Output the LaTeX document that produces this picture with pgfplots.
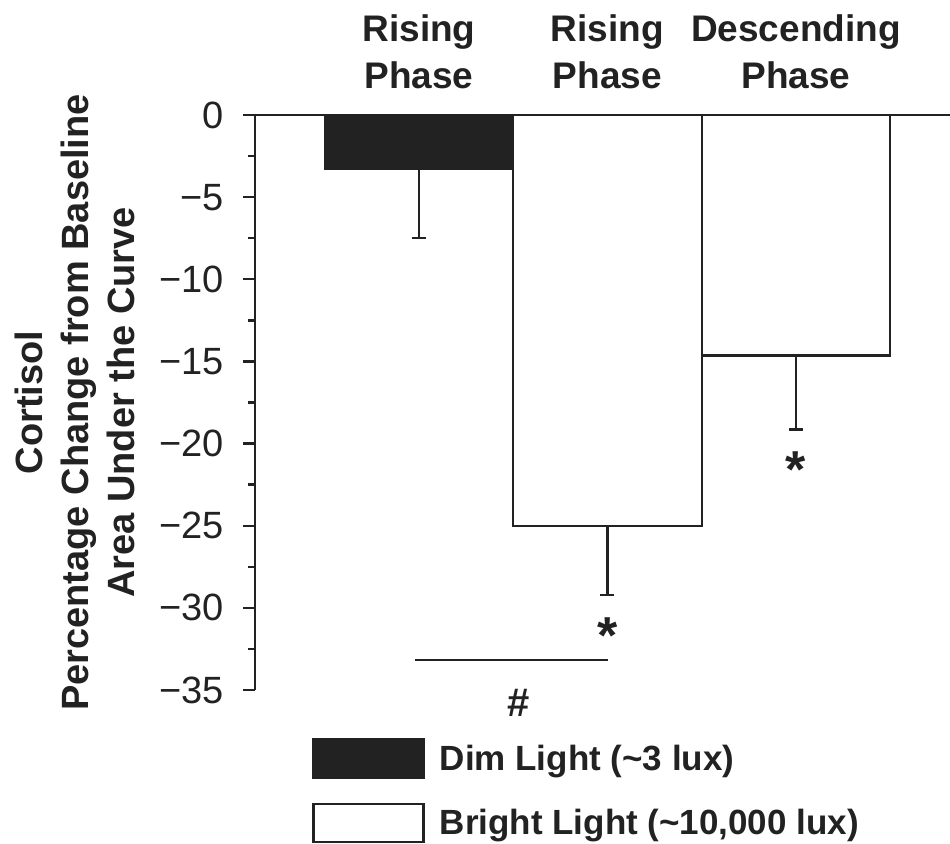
\documentclass[border=0pt]{standalone}
\usepackage{fontspec}
\setmainfont{Liberation Sans}
\usepackage{pgfplots}
\pgfplotsset{compat=1.18}
\definecolor{ink}{HTML}{222222}
\begin{document}
\begin{tikzpicture}
\useasboundingbox (-127.5pt,-77pt) rectangle (347.5pt,345pt);
\begin{axis}[
  scale only axis, width=347.5pt, height=287.5pt,
  xmin=-0.870, xmax=2.817, ymin=-35, ymax=0,
  axis x line=none, axis y line*=left,
  clip=false,
  ytick={0,-5,-10,-15,-20,-25,-30,-35},
  yticklabels={0,−5,−10,−15,−20,−25,−30,−35},
  minor y tick num=1,
  tick align=outside, major tick length=6pt, minor tick length=3.5pt,
  every tick/.style={line width=1.2pt, ink},
  axis line style={line width=1.3pt, ink},
  yticklabel style={font=\fontsize{19}{21}\selectfont, text=ink, xshift=-6pt},
  ybar, bar width=94.25pt, bar shift=0pt,
  legend style={draw=none, fill=none, at={(0.082,-0.0835)}, anchor=north west,
    inner sep=0pt, row sep=12pt, font=\bfseries\fontsize{17.5}{20}\selectfont,
    text=ink, nodes={inner sep=0pt, text=ink},
    /tikz/every odd column/.style={column sep=7.5pt}},
  legend cell align=left,
  legend image code/.code={\draw[#1] (0pt,-9.2pt) rectangle (55pt,9.8pt);},
]
\addplot[fill=ink, draw=ink, line width=1.2pt,
  error bars/.cd, y dir=minus, y explicit,
  error bar style={line width=1.2pt, ink},
  error mark options={rotate=90, line width=1.2pt, ink, mark size=3.5pt}]
  coordinates {(0,-3.3) -= (0,4.2)};
\addlegendentry{Dim Light (\textasciitilde3 lux)}
\addplot[fill=white, draw=ink, line width=1.2pt,
  error bars/.cd, y dir=minus, y explicit,
  error bar style={line width=1.2pt, ink},
  error mark options={rotate=90, line width=1.2pt, ink, mark size=3.5pt}]
  coordinates {(1,-25) -= (0,4.2) (2,-14.65) -= (0,4.5)};
\addlegendentry{Bright Light (\textasciitilde10,000 lux)}
% zero line
\draw[ink, line width=1.3pt] (axis cs:-0.870,0) -- (axis cs:2.817,0);
% significance line
\draw[ink, line width=1.2pt] (axis cs:-0.021,-33.17) -- (axis cs:1.003,-33.17);
\node[font=\bfseries\fontsize{20}{22}\selectfont, text=ink, anchor=center] at (axis cs:0.53,-35.79) {\#};
\node[font=\bfseries\fontsize{26}{28}\selectfont, text=ink, anchor=base, inner sep=0pt] at (axis cs:1,-32.75) {*};
\node[font=\bfseries\fontsize{26}{28}\selectfont, text=ink, anchor=base, inner sep=0pt] at (axis cs:2,-22.65) {*};
% phase titles
\node[font=\bfseries\fontsize{18.5}{23.5}\selectfont, text=ink, align=center, anchor=center]
  at (axis cs:0,3.83) {Rising\\Phase};
\node[font=\bfseries\fontsize{18.5}{23.5}\selectfont, text=ink, align=center, anchor=center]
  at (axis cs:1,3.83) {Rising\\Phase};
\node[font=\bfseries\fontsize{18.5}{23.5}\selectfont, text=ink, align=center, anchor=center]
  at (axis cs:2,3.83) {Descending\\Phase};
% y label
\node[rotate=90, font=\bfseries\fontsize{19}{23}\selectfont, text=ink, align=center, anchor=center]
  at ([xshift=-90pt]rel axis cs:0,0.5) {Cortisol\\Percentage Change from Baseline\\Area Under the Curve};
\end{axis}
\end{tikzpicture}
\end{document}
